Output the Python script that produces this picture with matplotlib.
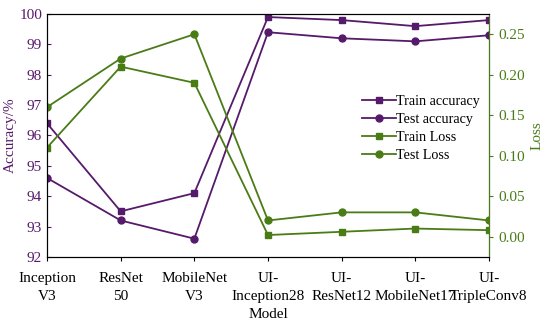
import numpy as np
import matplotlib.pyplot as plt

plt.rcParams['font.family'] = ['Liberation Serif', 'DejaVu Serif']

models = ["Inception\nV3", "ResNet\n50", "MobileNet\nV3", "UI-\nInception28",
          "UI-\nResNet12", "UI-\nMobileNet17", "UI-\nTripleConv8"]
train_acc = [96.4, 93.5, 94.1, 99.9, 99.8, 99.6, 99.8]
test_acc = [94.6, 93.2, 92.6, 99.4, 99.2, 99.1, 99.3]
train_loss = [0.11, 0.21, 0.19, 0.002, 0.006, 0.010, 0.008]
test_loss = [0.16, 0.22, 0.25, 0.02, 0.03, 0.03, 0.02]

purple = '#561a6b'
green = '#4a7c16'

fig = plt.figure(figsize=(5.5, 3.26), dpi=100)
ax = fig.add_axes([0.0855, 0.212, 0.8035, 0.745])
ax2 = ax.twinx()

x = np.arange(len(models))
l1, = ax.plot(x, train_acc, '-s', color=purple, ms=5, lw=1.3, label='Train accuracy')
l2, = ax.plot(x, test_acc, '-o', color=purple, ms=5, lw=1.3, label='Test accuracy')
l3, = ax2.plot(x, train_loss, '-s', color=green, ms=5, lw=1.3, label='Train Loss')
l4, = ax2.plot(x, test_loss, '-o', color=green, ms=5, lw=1.3, label='Test Loss')

ax.set_xlim(0, 6)
ax.set_ylim(92, 100)
ax2.set_ylim(-0.025, 0.275)
ax.set_xticks(x)
ax.set_xticklabels(models, fontsize=11, linespacing=1.45)
ax.set_yticks(np.arange(92, 101, 1))
ax2.set_yticks(np.arange(0, 0.26, 0.05))
ax2.set_yticklabels([f"{v:.2f}" for v in np.arange(0, 0.26, 0.05)])

ax.tick_params(axis='y', colors=purple, labelsize=11, direction='in', length=3)
ax.tick_params(axis='x', labelsize=11, direction='out', length=3, pad=8)
ax2.tick_params(axis='y', colors=green, labelsize=11, direction='out', length=3)
ax2.spines['right'].set_color(green)
ax.set_ylabel("Accuracy/%", color=purple, fontsize=11, labelpad=2)
ax2.set_ylabel("Loss", color=green, fontsize=11, labelpad=4)
ax.set_xlabel("Model", fontsize=11, labelpad=4)

ax2.legend(handles=[l1, l2, l3, l4], loc='upper left', bbox_to_anchor=(0.713, 0.665),
           frameon=False, fontsize=10.2, handlelength=2.4, handletextpad=0.0,
           labelspacing=0.35, borderpad=0, borderaxespad=0)

fig.savefig("out.png", dpi=100)
